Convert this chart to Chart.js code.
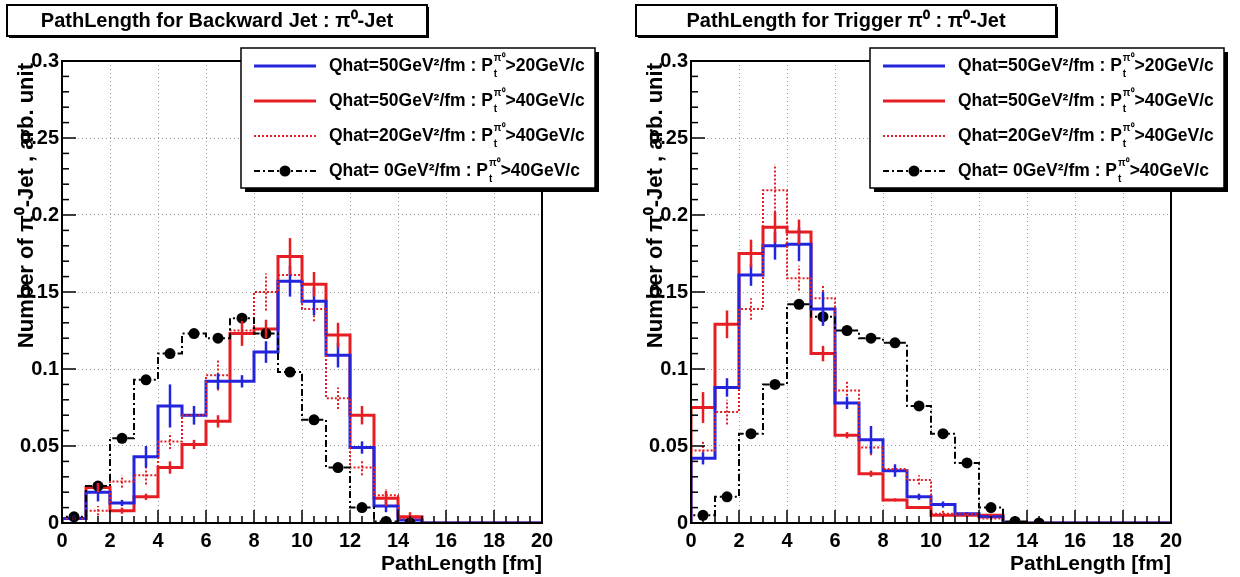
<!DOCTYPE html>
<html>
<head>
<meta charset="utf-8">
<script src="https://cdn.jsdelivr.net/npm/chart.js@4.4.1/dist/chart.umd.min.js"></script>
<style>
    html, body { margin: 0; padding: 0; background: #fff; overflow: hidden; }
    body { width: 1240px; height: 577px; position: relative; }
    canvas { position: absolute; top: 0; }
    #leftPanel { left: 0; }
    #rightPanel { left: 629px; }
</style>
</head>
<body>
<canvas id="leftPanel" width="620" height="577"></canvas>
<canvas id="rightPanel" width="611" height="577"></canvas>
<script>
// histogram bins (fm)
const binEdges = [0, 1, 2, 3, 4, 5, 6, 7, 8, 9, 10, 11, 12, 13, 14, 15, 16, 17, 18, 19, 20];
const xTickValues = [0, 2, 4, 6, 8, 10, 12, 14, 16, 18, 20];
const xTickLabels = ["0", "2", "4", "6", "8", "10", "12", "14", "16", "18", "20"];
const yTickValues = [0, 0.05, 0.1, 0.15, 0.2, 0.25, 0.3];
const yTickLabels = ["0", "0.05", "0.1", "0.15", "0.2", "0.25", "0.3"];

const legendPrefix = ["Qhat=50GeV²/fm : P", "Qhat=50GeV²/fm : P", "Qhat=20GeV²/fm : P", "Qhat= 0GeV²/fm : P"];
const legendSuffix = [">20GeV/c", ">40GeV/c", ">40GeV/c", ">40GeV/c"];

// Backward jet
const blueBack = [0.003, 0.020, 0.013, 0.043, 0.076, 0.070, 0.092, 0.092, 0.111, 0.157, 0.144, 0.109, 0.049, 0.011, 0.002, 0, 0, 0, 0, 0];
const blueBackErr = [0.002, 0.006, 0.002, 0.007, 0.014, 0.006, 0.005, 0.004, 0.007, 0.010, 0.009, 0.008, 0.004, 0.004, 0.001, 0, 0, 0, 0, 0];
const redBack = [0.003, 0.023, 0.008, 0.017, 0.036, 0.051, 0.066, 0.123, 0.126, 0.173, 0.155, 0.122, 0.070, 0.016, 0.004, 0, 0, 0, 0, 0];
const redBackErr = [0.001, 0.003, 0.002, 0.002, 0.004, 0.003, 0.004, 0.008, 0.006, 0.012, 0.008, 0.008, 0.006, 0.005, 0.003, 0, 0, 0, 0, 0];
const dotBack = [0.003, 0.008, 0.027, 0.031, 0.053, 0.070, 0.096, 0.125, 0.150, 0.161, 0.139, 0.081, 0.036, 0.018, 0.003, 0, 0, 0, 0, 0];
const dotBackErr = [0.001, 0.003, 0.004, 0.006, 0.005, 0.006, 0.010, 0.008, 0.012, 0.010, 0.008, 0.007, 0.005, 0.004, 0.002, 0, 0, 0, 0, 0];
const blackBack = [0.004, 0.024, 0.055, 0.093, 0.110, 0.123, 0.120, 0.133, 0.123, 0.098, 0.067, 0.036, 0.010, 0.001, 0.0];

// Trigger pi0
const blueTrig = [0.042, 0.088, 0.161, 0.180, 0.181, 0.139, 0.078, 0.054, 0.034, 0.017, 0.012, 0.006, 0.004, 0, 0, 0, 0, 0, 0, 0];
const blueTrigErr = [0.004, 0.006, 0.007, 0.009, 0.011, 0.011, 0.004, 0.009, 0.004, 0.002, 0.002, 0.001, 0.001, 0, 0, 0, 0, 0, 0, 0];
const redTrig = [0.075, 0.129, 0.175, 0.192, 0.189, 0.110, 0.057, 0.032, 0.015, 0.010, 0.005, 0.005, 0.005, 0, 0, 0, 0, 0, 0, 0];
const redTrigErr = [0.010, 0.009, 0.009, 0.010, 0.008, 0.005, 0.002, 0.002, 0.001, 0.001, 0.001, 0.001, 0.001, 0, 0, 0, 0, 0, 0, 0];
const dotTrig = [0.047, 0.072, 0.139, 0.216, 0.159, 0.146, 0.086, 0.049, 0.035, 0.028, 0.006, 0.006, 0.003, 0, 0, 0, 0, 0, 0, 0];
const dotTrigErr = [0.006, 0.008, 0.007, 0.017, 0.008, 0.009, 0.006, 0.005, 0.003, 0.003, 0.002, 0.001, 0.001, 0, 0, 0, 0, 0, 0, 0];
const blackTrig = [0.005, 0.017, 0.058, 0.090, 0.142, 0.134, 0.125, 0.120, 0.117, 0.076, 0.058, 0.039, 0.010, 0.001, 0.0];

const BLUE = "#2424dc";
const RED = "#e61e23";
const FONT = "Liberation Sans, Arial, sans-serif";

function stepData(values) {
    const pts = [{ x: binEdges[0], y: 0 }];
    values.forEach((v, i) => pts.push({ x: binEdges[i], y: v }));
    pts.push({ x: binEdges[values.length], y: values[values.length - 1] });
    return pts;
}

function centerData(values) {
    return values.map((v, i) => ({ x: (binEdges[i] + binEdges[i + 1]) / 2, y: v }));
}

function drawLegendLabel(ctx, x, y, prefix, suffix) {
    ctx.textAlign = "left";
    ctx.textBaseline = "middle";
    ctx.font = "bold 17.5px " + FONT;
    ctx.fillText(prefix, x, y);
    let w = ctx.measureText(prefix).width;
    ctx.font = "bold 10px " + FONT;
    ctx.fillText("t", x + w + 1, y + 8);
    ctx.fillText("π⁰", x + w + 1, y - 8);
    const w2 = Math.max(ctx.measureText("t").width, ctx.measureText("π⁰").width);
    ctx.font = "bold 17.5px " + FONT;
    ctx.fillText(suffix, x + w + w2 + 1, y);
}

function createPanel(canvasId, title, blue, blueErr, red, redErr, dot, dotErr, black) {
    const canvas = document.getElementById(canvasId);
    const ctx = canvas.getContext("2d");

    const decor = {
        id: "decor",
        afterDatasetsDraw(chart) {
            const c = chart.ctx;
            const xs = chart.scales.x;
            const ys = chart.scales.y;
            const a = chart.chartArea;
            c.save();
            // error bars
            chart.data.datasets.forEach((ds) => {
                if (!ds.errors) return;
                c.strokeStyle = ds.borderColor;
                c.lineWidth = ds.errWidth;
                c.setLineDash(ds.borderDash || []);
                ds.values.forEach((v, i) => {
                    const e = ds.errors[i];
                    if (!e) return;
                    const px = xs.getPixelForValue((binEdges[i] + binEdges[i + 1]) / 2);
                    c.beginPath();
                    c.moveTo(px, ys.getPixelForValue(Math.max(v - e, 0)));
                    c.lineTo(px, ys.getPixelForValue(v + e));
                    c.stroke();
                });
            });
            c.setLineDash([]);
            // ticks inside the frame
            c.strokeStyle = "#000";
            c.lineWidth = 1.5;
            for (let k = 0; k <= 40; k++) {
                const px = xs.getPixelForValue(k * 0.5);
                const len = k % 4 === 0 ? 13 : 7;
                c.beginPath();
                c.moveTo(px, a.bottom);
                c.lineTo(px, a.bottom - len);
                c.stroke();
            }
            for (let k = 0; k <= 30; k++) {
                const py = ys.getPixelForValue(k * 0.01);
                const len = k % 5 === 0 ? 14 : 7;
                c.beginPath();
                c.moveTo(a.left, py);
                c.lineTo(a.left + len, py);
                c.stroke();
            }
            c.lineWidth = 2;
            c.strokeRect(a.left, a.top, a.right - a.left, a.bottom - a.top);
            c.restore();
        },
        afterDraw(chart) {
            const c = chart.ctx;
            const a = chart.chartArea;
            c.save();
            // title box
            c.fillStyle = "#fff";
            c.fillRect(7, 5, 420, 31);
            c.fillStyle = "#000";
            c.fillRect(9, 36, 420, 2);
            c.fillRect(427, 7, 2, 31);
            c.strokeStyle = "#000";
            c.lineWidth = 2;
            c.strokeRect(7, 5, 420, 31);
            c.font = "bold 20px " + FONT;
            c.textAlign = "center";
            c.textBaseline = "middle";
            c.fillText(title, 217, 21);

            // axis titles
            c.font = "bold 21px " + FONT;
            c.textAlign = "right";
            c.fillText("PathLength [fm]", a.right, 564);
            c.save();
            c.font = "bold 22px " + FONT;
            c.translate(27, a.top + 2);
            c.rotate(-Math.PI / 2);
            c.fillText("Number of π⁰-Jet , arb. unit", 0, 0);
            c.restore();

            // legend
            const lx = 241, ly = 48, lw = 354, lh = 140;
            c.fillStyle = "#000";
            c.fillRect(lx + 4, ly + 4, lw, lh);
            c.fillStyle = "#fff";
            c.fillRect(lx, ly, lw, lh);
            c.lineWidth = 1.5;
            c.strokeRect(lx, ly, lw, lh);
            const rows = [66, 101, 136, 171];
            const styles = [
                { color: BLUE, width: 3, dash: [] },
                { color: RED, width: 3, dash: [] },
                { color: RED, width: 2, dash: [2, 2] },
                { color: "#000", width: 2, dash: [6, 3, 2, 3] },
            ];
            rows.forEach((ry, i) => {
                const s = styles[i];
                c.strokeStyle = s.color;
                c.lineWidth = s.width;
                c.setLineDash(s.dash);
                c.beginPath();
                c.moveTo(254, ry);
                c.lineTo(316, ry);
                c.stroke();
                c.setLineDash([]);
                if (i === 3) {
                    c.fillStyle = "#000";
                    c.beginPath();
                    c.arc(285, ry, 5.5, 0, Math.PI * 2);
                    c.fill();
                }
                c.fillStyle = "#000";
                drawLegendLabel(c, 329, ry, legendPrefix[i], legendSuffix[i]);
            });
            c.restore();
        }
    };

    const tickFont = { family: FONT, size: 20, weight: "bold" };

    new Chart(ctx, {
        type: "line",
        data: {
            datasets: [
                {
                    data: stepData(black),
                    borderColor: "#000",
                    borderWidth: 2,
                    borderDash: [7, 3, 2, 3],
                    stepped: "before",
                    pointRadius: 0,
                    fill: false,
                },
                {
                    data: centerData(black),
                    showLine: false,
                    pointRadius: 5.5,
                    pointBackgroundColor: "#000",
                    pointBorderWidth: 0,
                },
                {
                    data: stepData(dot),
                    values: dot,
                    errors: dotErr,
                    errWidth: 2,
                    borderColor: RED,
                    borderWidth: 2,
                    borderDash: [2, 2],
                    stepped: "before",
                    pointRadius: 0,
                    fill: false,
                },
                {
                    data: stepData(blue),
                    values: blue,
                    errors: blueErr,
                    errWidth: 2.5,
                    borderColor: BLUE,
                    borderWidth: 3,
                    stepped: "before",
                    pointRadius: 0,
                    fill: false,
                },
                {
                    data: stepData(red),
                    values: red,
                    errors: redErr,
                    errWidth: 2.5,
                    borderColor: RED,
                    borderWidth: 3,
                    stepped: "before",
                    pointRadius: 0,
                    fill: false,
                },
            ]
        },
        options: {
            responsive: false,
            animation: false,
            devicePixelRatio: 1,
            events: [],
            layout: {
                padding: { left: 0, top: 61, right: canvas.width - 542, bottom: 0 }
            },
            plugins: {
                legend: { display: false },
                tooltip: { enabled: false }
            },
            scales: {
                x: {
                    type: "linear",
                    min: 0,
                    max: 20,
                    afterFit: (s) => { s.height = 577 - 523; },
                    afterBuildTicks: (s) => { s.ticks = xTickValues.map((v) => ({ value: v })); },
                    ticks: {
                        callback: (v, i) => xTickLabels[i],
                        color: "#000",
                        font: tickFont,
                        padding: 6,
                        maxRotation: 0,
                        autoSkip: false
                    },
                    grid: { color: "#9a9a9a", drawTicks: false, lineWidth: 1 },
                    border: { display: false, dash: [1, 3] }
                },
                y: {
                    type: "linear",
                    min: 0,
                    max: 0.3,
                    afterFit: (s) => { s.width = 62; },
                    afterBuildTicks: (s) => { s.ticks = yTickValues.map((v) => ({ value: v })); },
                    ticks: {
                        callback: (v, i) => yTickLabels[i],
                        color: "#000",
                        font: tickFont,
                        padding: 3
                    },
                    grid: { color: "#9a9a9a", drawTicks: false, lineWidth: 1 },
                    border: { display: false, dash: [1, 3] }
                }
            }
        },
        plugins: [decor]
    });
}

createPanel("leftPanel", "PathLength for Backward Jet : π⁰-Jet",
    blueBack, blueBackErr, redBack, redBackErr, dotBack, dotBackErr, blackBack);
createPanel("rightPanel", "PathLength for Trigger π⁰ : π⁰-Jet",
    blueTrig, blueTrigErr, redTrig, redTrigErr, dotTrig, dotTrigErr, blackTrig);
</script>
</body>
</html>
